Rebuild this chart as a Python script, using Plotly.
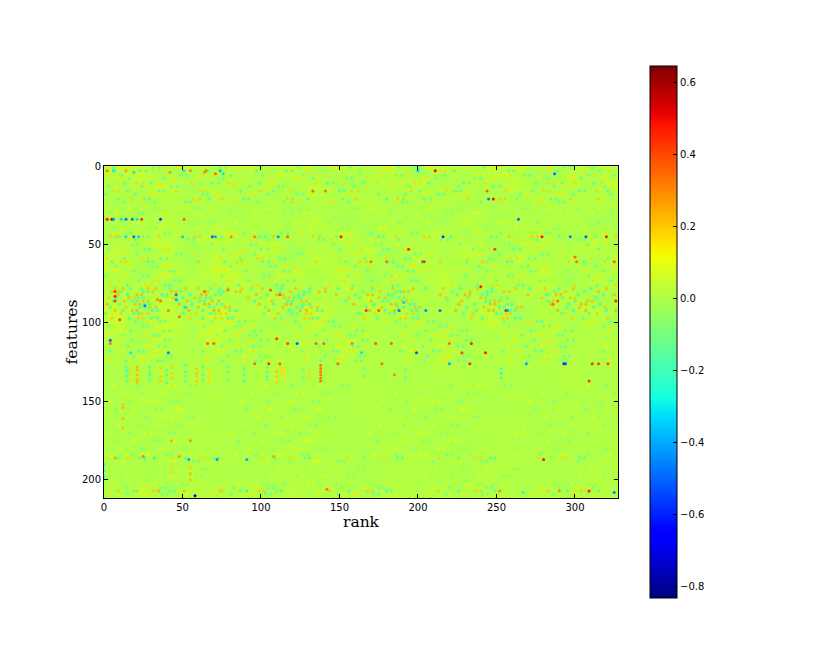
import plotly.graph_objects as go

LEVELS = [-0.06, -0.045, -0.03, -0.015, 0.0, 0.015, 0.03, 0.045, 0.06, 0.08]

# Broad regional tint, estimated by eye: one row per 8 features, one digit per 16 ranks.
BG_ROWS = [
"563545463546354653545",
"456354546345635463546",
"445454445454454445454",
"444544444454444444544",
"446354546345436354534",
"365465354635463546354",
"546354635463546345463",
"645364536453645364536",
"536475364635463546354",
"463546354635463546354",
"546354635463546354635",
"736475637456354635463",
"637465346354534635453",
"536473545454454454544",
"445454454544544544454",
"454544554454454454545",
"445454544544454544544",
"444544544454445444544",
"454454445444544454445",
"445444544454445444544",
"444544454445444544454",
"444454445444544454445",
"444544454445444544444",
"444454445444544454445",
"444544454445444544454",
"453545354535453545354",
"454645464546454645464",
]

# Fine mottling. The feature row and amplitude of each band are estimated from the
# picture; the dot ranks are hand-placed approximations, not individually read cells.
# (feature, amplitude, ranks of warm dots, ranks of cool dots)
MOTTLE = [
(1,0.15,[3,9,17,41,47,52,83,92,96,131,146,150,179,206,209,233,262,266,284,318],[6,31,35,74,78,124,157,188,197,201,242,293,297,311]),
(3,0.17,[14,36,40,77,103,129,134,172,183,214,217,247,279,283,306,322],[7,23,27,66,97,116,120,163,200,223,258,261,289,316]),
(6,0.16,[2,19,22,62,71,112,137,141,176,193,238,255,259,298,313],[11,49,53,81,101,127,186,190,217,268,271,309,325]),
(8,0.15,[8,12,44,59,107,122,125,169,203,206,249,277,295,299,320],[16,38,73,76,133,155,158,212,236,240,283,304]),
(11,0.18,[5,21,25,56,79,83,135,153,174,198,201,243,282,286,300,317],[13,30,69,73,99,142,146,165,207,229,233,275,292,312]),
(13,0.16,[10,34,37,84,105,109,147,168,184,215,219,259,291,294,324],[3,24,43,47,93,111,114,160,195,226,248,252,287,319]),
(16,0.19,[6,9,46,61,64,100,119,158,162,196,218,222,256,280,283,314],[15,35,38,87,108,150,153,201,224,227,273,303,306,321]),
(18,0.16,[12,29,33,72,91,95,132,154,158,205,227,231,270,288,292],[1,20,63,66,104,123,127,175,192,213,216,265,299,323]),
(21,0.2,[18,57,61,75,117,120,161,187,191,232,252,255,297,315],[9,26,29,67,89,92,130,152,180,204,208,263,285,288]),
(23,0.17,[24,27,60,82,85,121,143,147,185,208,212,253,276,279,318],[13,32,52,55,98,115,119,156,190,193,240,290,293]),
(27,0.1,[16,20,71,103,107,172,205,209,284,316],[33,58,62,125,158,162,226,266,270,302]),
(30,0.11,[8,37,41,96,128,132,199,236,239,311],[22,25,80,115,119,183,218,222,293,323]),
(36,0.09,[19,22,84,122,125,207,251,254],[35,68,71,143,187,190,276,315]),
(40,0.09,[11,56,60,131,176,179,262,306],[29,33,117,152,155,243,287,290]),
(43,0.14,[6,10,49,78,82,126,155,158,211,238,242,295,318],[17,39,42,89,113,117,170,196,199,253,281,284]),
(45,0.2,[4,8,35,58,61,108,133,137,186,204,207,258,273,276,326],[10,25,28,75,99,103,148,175,178,221,247,250,290,313]),
(47,0.17,[12,16,66,93,97,145,172,176,234,263,267,311],[20,53,57,105,137,140,188,215,219,276,303,306]),
(50,0.13,[7,30,34,79,107,110,156,183,187,240,268,271,320],[18,21,69,94,97,146,173,177,227,255,258,308]),
(53,0.17,[15,38,41,88,110,114,164,191,195,245,274,277,324],[3,26,29,76,100,104,150,178,181,235,261,265,315]),
(56,0.15,[9,13,57,82,86,131,158,162,209,237,240,291,317],[21,46,49,96,123,126,176,198,202,252,279,283]),
(59,0.18,[2,24,28,74,98,101,151,180,184,232,259,263,310],[13,36,40,87,112,115,166,192,195,246,271,275,321]),
(61,0.2,[11,14,60,85,88,135,163,167,214,241,244,296,319],[5,28,31,77,101,105,154,181,184,231,257,260,306]),
(64,0.16,[17,40,43,91,116,120,169,195,198,249,277,281,325],[8,31,34,81,106,109,160,187,190,239,266,270,313]),
(67,0.15,[6,9,49,73,77,124,149,153,201,226,230,280,307],[19,42,45,90,115,118,168,193,197,244,272,275,318]),
(70,0.14,[14,37,41,83,111,114,162,186,190,236,263,267,316],[1,25,28,75,102,105,155,179,183,230,258,261,309]),
(73,0.17,[10,32,35,80,103,107,153,182,185,233,260,264,312],[22,45,48,92,117,121,171,196,199,250,278,281,323]),
(76,0.18,[4,27,30,71,95,98,144,170,174,222,248,251,300,326],[15,39,42,86,110,114,159,184,187,238,264,267,314]),
(78,0.22,[7,12,28,33,52,60,79,88,101,122,141,158,184,197,216,238,262,281,299,320],[17,24,42,68,74,94,113,131,149,171,205,227,247,271,290,310]),
(80,0.23,[5,9,31,43,46,66,84,87,119,137,141,176,191,194,233,255,258,294,315],[11,25,28,49,73,76,112,128,131,165,186,189,222,244,247,287,306]),
(82,0.24,[9,21,24,46,62,65,97,110,114,148,168,171,214,230,233,270,288,291,325],[15,37,40,55,71,74,104,124,127,160,181,184,225,241,244,282,302,318]),
(84,0.22,[3,16,20,44,58,61,92,115,118,156,175,179,218,240,243,279,297,300],[8,22,25,50,65,68,100,121,125,163,188,191,232,253,257,292,313]),
(86,0.23,[13,25,28,53,69,73,107,126,129,170,190,193,228,249,252,286,308,311],[6,18,21,47,61,64,96,117,120,154,178,181,219,243,246,283,300]),
(88,0.25,[2,20,23,48,64,67,99,116,119,159,183,186,226,246,249,285,304,307],[10,26,29,56,72,75,108,127,131,172,195,198,236,257,260,296,316]),
(90,0.22,[14,29,33,60,77,80,114,132,136,177,198,201,242,263,266,303,319],[4,23,26,51,67,70,103,123,126,167,187,191,231,252,255,295,312]),
(92,0.25,[7,18,21,54,70,73,105,125,129,169,185,188,224,245,248,289,307,326],[12,31,34,63,80,84,118,136,139,179,196,199,237,259,262,299,320]),
(94,0.2,[11,24,28,59,74,78,111,129,132,173,193,197,235,256,259,293,314],[1,19,22,50,68,71,102,120,123,162,182,185,229,250,253,291,309]),
(97,0.2,[5,22,25,55,71,75,109,128,131,166,189,192,234,254,257,298,321],[16,30,34,63,79,82,113,133,136,174,197,200,241,262,265,305]),
(99,0.16,[9,28,31,61,78,81,115,137,140,180,201,205,247,268,271,310],[20,36,39,69,86,90,122,143,146,186,206,210,255,276,279,323]),
(102,0.14,[13,34,38,73,92,96,134,156,159,199,222,225,265,287,290],[3,25,28,64,84,87,125,147,150,192,214,218,258,280,284,318]),
(105,0.15,[8,26,30,67,87,90,129,149,153,194,216,219,260,283,286,322],[17,38,42,77,96,100,140,161,165,205,228,231,272,294,298]),
(108,0.14,[2,23,26,62,83,86,124,145,149,190,211,215,256,277,280,317],[12,32,35,72,93,97,135,157,160,200,221,225,266,289,292]),
(111,0.16,[10,29,33,70,90,94,131,152,156,196,218,221,261,282,286,325],[18,39,42,80,100,104,142,165,168,208,231,234,274,295,299]),
(115,0.14,[6,27,30,65,85,89,127,148,151,191,213,216,257,279,282,320],[15,35,39,75,95,99,137,159,162,203,225,229,269,291,294]),
(118,0.15,[12,33,36,74,94,97,136,155,159,198,219,223,263,285,288,324],[4,22,25,63,84,87,126,146,149,189,210,214,254,275,279,318]),
(121,0.13,[9,30,34,69,89,92,130,151,155,195,217,220,259,281,285],[19,40,43,79,99,103,141,163,166,206,229,232,271,293,296]),
(124,0.15,[3,24,28,66,86,90,128,150,153,193,215,218,258,280,284,322],[14,34,37,76,97,100,138,160,164,204,226,230,270,292,295]),
(140,0.1,[6,41,45,103,137,141,204,239,243,308],[22,55,59,120,152,156,221,255,259,320]),
(145,0.09,[12,36,39,94,123,127,186,216,219,279,311],[24,51,54,109,140,143,202,232,236,295,325]),
(150,0.09,[4,29,32,88,118,121,178,209,213,271,301],[17,43,46,104,133,137,193,225,228,287,316]),
(155,0.1,[20,47,50,106,136,139,198,228,231,290,321],[8,33,37,91,121,124,182,212,215,275,306]),
(160,0.09,[15,39,43,98,127,130,189,219,223,281,312],[27,54,57,113,143,147,205,236,239,298]),
(165,0.09,[9,34,37,90,116,120,176,207,210,268,299],[22,48,51,103,131,135,191,222,225,284,318]),
(170,0.1,[3,26,30,81,110,113,169,200,204,262,293],[16,42,45,96,125,129,185,215,219,277,308]),
(175,0.11,[19,45,48,101,129,132,190,220,224,283,314],[7,31,34,86,114,118,174,203,207,265,296]),
(180,0.09,[11,37,41,93,122,125,183,213,216,274,305],[24,50,53,107,137,141,197,227,230,289,320]),
(184,0.12,[5,28,31,84,112,116,172,201,205,263,294,322],[18,40,43,97,126,130,186,218,221,278,309]),
(186,0.18,[2,15,18,44,61,64,100,118,121,155,177,180,214,236,240,276,292,295],[9,23,26,52,70,73,109,128,131,166,187,190,226,246,249,285,303,306]),
(188,0.12,[12,41,45,104,134,137,194,224,227,286,317],[26,57,60,119,150,153,210,241,244,302]),
(193,0.08,[22,46,49,111,145,148,212,244,247,310],[34,63,66,128,162,165,229,261,264]),
(198,0.08,[14,43,46,106,139,142,205,238,241,303],[29,59,62,123,156,159,222,254,257,319]),
(203,0.09,[7,33,36,98,130,133,197,231,234,298],[20,50,53,115,148,151,214,248,251,313]),
(205,0.14,[4,25,28,71,94,97,141,164,167,209,232,235,279,300,303],[14,36,39,83,105,108,152,175,178,220,244,247,290,311]),
(207,0.2,[9,31,34,75,99,102,144,168,171,213,237,240,283,304,307],[19,42,45,87,110,113,156,180,183,226,249,252,295,315]),
(209,0.15,[3,26,29,69,92,95,137,159,162,206,228,231,274,297,300],[15,37,40,81,103,106,149,172,175,218,241,244,286,308]),
]

# Individual bright points.
SPOT_RANK = [2,6,14,19,42,51,55,64,74,65,71,76,133,141,211,287,200,
             2,5,6,11,14,18,21,24,36,51,264,
             14,19,22,50,69,71,81,96,111,117,151,216,279,297,307,320,
             7,7,7,46,46,106,79,26,10,48,41,52,36,34,64,112,
             194,240,249,248,245,244,203,204,170,180,300,301,325,
             191,188,167,175,205,214,256,257,326,289,286,
             4,110,4,66,70,117,123,135,140,158,17,41,96,105,112,149,
             173,183,220,234,199,228,243,164,177,293,294,269,233,220,311,315,321,309,253,185,
             12,12,12,12,43,55,7,25,32,48,54,72,91,108,58,91,0,0,0,
             55,55,55,43,43,21,35,51,74,142,280,309,325,267,252,290]
SPOT_FEAT = [3,3,3,4,4,3,3,4,3,3,5,5,16,16,3,5,3,
             34,34,34,34,34,34,34,34,34,34,34,
             45,45,45,45,45,45,45,45,45,45,45,45,45,45,45,45,
             80,83,86,82,85,79,79,89,98,96,92,90,86,85,80,82,
             53,77,53,21,21,16,61,61,61,61,58,61,61,
             87,92,92,92,92,92,92,92,86,86,88,
             111,110,113,113,113,113,113,113,113,113,119,119,126,126,126,126,
             113,113,113,113,119,119,119,119,126,126,126,126,126,126,126,126,126,137,132,133,
             152,154,161,167,175,175,186,185,186,185,187,187,187,185,210,207,190,194,198,
             192,196,200,192,196,207,207,207,207,206,187,207,208,208,207,207]
SPOT_VAL = [0.3,-0.3,0.25,-0.3,0.28,-0.3,0.3,0.28,-0.38,0.32,0.34,-0.32,0.35,0.33,0.5,-0.48,-0.35,
            0.45,0.55,-0.45,-0.32,-0.48,-0.48,-0.32,0.42,-0.55,0.35,-0.48,
            -0.33,-0.48,-0.34,-0.35,-0.5,-0.4,0.3,0.3,-0.42,0.35,0.47,-0.55,0.48,-0.46,-0.52,0.46,
            0.42,0.46,0.42,-0.45,-0.4,0.36,0.32,-0.45,0.38,0.34,0.3,-0.32,0.34,0.3,0.34,0.36,
            0.44,0.46,0.4,0.48,-0.46,0.36,-0.44,0.42,0.34,0.34,0.34,0.34,0.36,
            -0.34,-0.46,0.42,0.36,-0.44,-0.48,0.47,-0.42,0.45,0.34,0.34,
            -0.5,0.42,0.32,0.34,0.36,0.4,-0.5,0.34,0.34,0.32,-0.3,-0.46,0.34,0.44,0.34,0.34,
            0.36,0.36,0.34,0.44,-0.52,0.4,0.46,-0.32,0.34,-0.62,-0.52,-0.42,0.44,-0.4,0.42,0.4,0.38,0.42,-0.3,0.3,
            0.2,0.22,0.22,0.2,0.24,0.28,0.26,0.3,-0.26,0.26,-0.4,-0.42,-0.4,0.26,-0.68,-0.28,-0.25,-0.26,-0.25,
            0.2,0.22,0.2,0.17,0.17,0.2,0.22,0.22,0.2,0.32,0.46,0.46,-0.46,-0.28,0.28,0.28]

# Vertical streaks in the 127-139 band: rank, value and the features each one covers.
STREAK_RANK = [14,15,17,21,22,29,36,40,43,52,59,63,67,79,89,104,110,113,115,127,131,138,166,192,253]
STREAK_VAL = [-0.16,-0.15,0.17,0.22,0.17,-0.16,0.19,-0.15,0.19,-0.16,0.2,-0.15,0.17,-0.16,-0.18,-0.16,0.2,0.17,0.17,-0.13,0.18,0.32,-0.13,-0.13,-0.18]
STREAK_FEATS = [[128,131,134],[130,133,137],[129,132,136],[128,130,133,136,138],[131,135],[128,131,133,136],
                [129,134,137],[130,133,138],[128,132,135],[127,131,134,137],[129,132,134,137],[128,133,136],
                [130,134,137],[128,131,136],[129,133,137],[128,131,134,136],[131,134,138],[128,130,133],
                [129,132,135],[130,135],[131,134],[127,129,131,133,135,137],[129,134],[130,135],[129,132,135]]

X_TICKS = [0, 50, 100, 150, 200, 250, 300]
Y_TICKS = [0, 50, 100, 150, 200]
CB_TICKS = [-0.8, -0.6, -0.4, -0.2, 0.0, 0.2, 0.4, 0.6]

JET = [[0, "rgb(0,0,128)"], [0.11, "rgb(0,0,255)"], [0.125, "rgb(0,0,255)"],
       [0.34, "rgb(0,219,255)"], [0.35, "rgb(0,229,247)"], [0.375, "rgb(20,255,226)"],
       [0.64, "rgb(238,255,8)"], [0.65, "rgb(246,245,0)"], [0.66, "rgb(255,236,0)"],
       [0.89, "rgb(255,18,0)"], [0.91, "rgb(231,0,0)"], [1, "rgb(128,0,0)"]]

z = [[LEVELS[int(ch)] for ch in row] for row in BG_ROWS]
x = [8 + 16 * i for i in range(21)]
y = [4 + 8 * i for i in range(len(BG_ROWS))]

mx, my, mv = [], [], []
for feat, amp, warm, cool in MOTTLE:
    for r in warm:
        mx.append(r); my.append(feat); mv.append(amp)
    for r in cool:
        mx.append(r); my.append(feat); mv.append(-amp)

sx, sy, sv = list(SPOT_RANK), list(SPOT_FEAT), list(SPOT_VAL)
for r, v, feats in zip(STREAK_RANK, STREAK_VAL, STREAK_FEATS):
    for f in feats:
        sx.append(r); sy.append(f); sv.append(v)

fig = go.Figure()
fig.add_trace(go.Heatmap(x=x, y=y, z=z, coloraxis="coloraxis", zsmooth="best", hoverinfo="skip"))
fig.add_trace(go.Scatter(x=mx, y=my, mode="markers", hoverinfo="skip", showlegend=False,
                         marker=dict(size=3.4, color=mv, coloraxis="coloraxis", line_width=0, opacity=0.7)))
fig.add_trace(go.Scatter(x=sx, y=sy, mode="markers", hoverinfo="skip", showlegend=False,
                         marker=dict(size=3, color=sv, coloraxis="coloraxis", line_width=0)))

axis = dict(showgrid=False, zeroline=False, showline=True, mirror="ticks", linecolor="black",
            linewidth=1, ticks="inside", ticklen=4, tickcolor="black", automargin=False,
            tickfont=dict(family="DejaVu Sans", size=10, color="black"))
fig.update_layout(
    width=830, height=664, margin=dict(l=104, r=212, t=166, b=166, pad=0, autoexpand=False),
    paper_bgcolor="white", plot_bgcolor="white", showlegend=False,
    xaxis=dict(axis, range=[0, 327.4], tickvals=X_TICKS,
               title=dict(text="rank", standoff=0, font=dict(family="DejaVu Serif", size=15.5, color="black"))),
    yaxis=dict(axis, range=[211.5, 0], tickvals=Y_TICKS,
               title=dict(text="features", standoff=0, font=dict(family="DejaVu Serif", size=15.5, color="black"))),
    coloraxis=dict(cmin=-0.833, cmax=0.647, colorscale=JET, colorbar=dict(
        x=(650 - 104) / 514, xanchor="left", y=0.5, yanchor="middle",
        lenmode="pixels", len=532, thicknessmode="pixels", thickness=27, xpad=0, ypad=0,
        outlinecolor="black", outlinewidth=1, ticks="inside", ticklen=4, tickcolor="black",
        tickvals=CB_TICKS, tickformat=".1f",
        tickfont=dict(family="DejaVu Sans", size=10, color="black"))),
)
fig.write_html("out.html", config={"displayModeBar": False},
               post_script="document.body.style.margin='0';document.documentElement.style.overflow='hidden';")
